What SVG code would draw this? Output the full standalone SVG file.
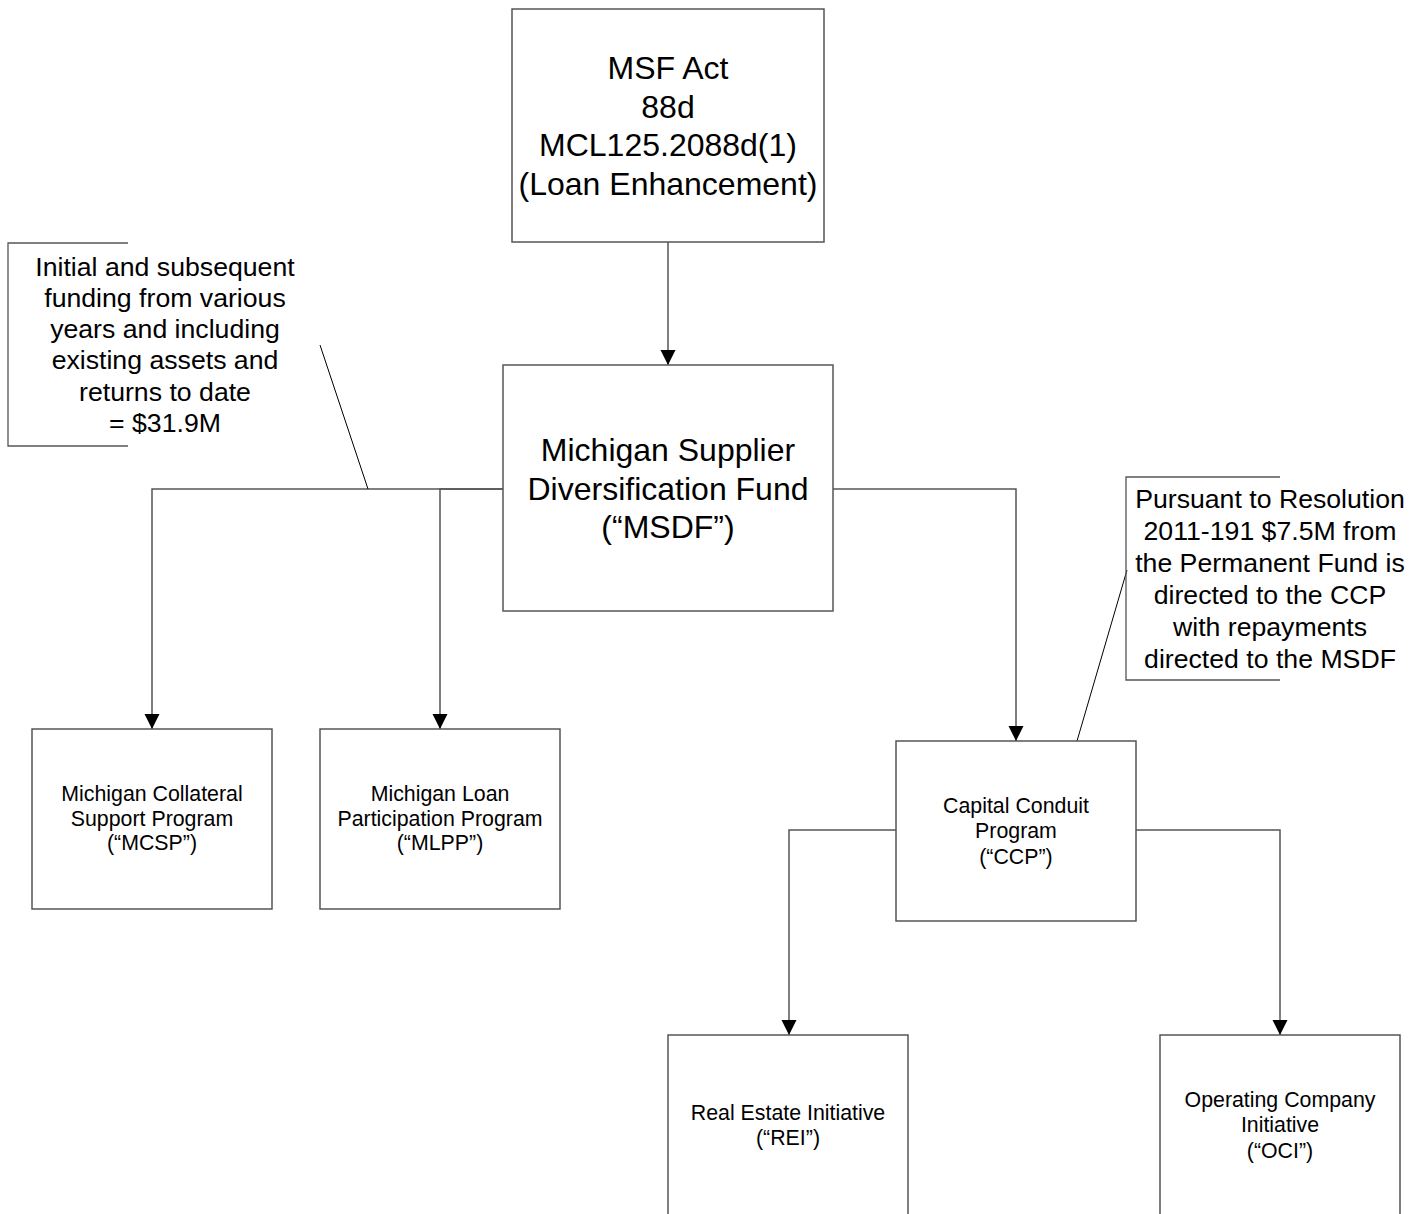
<svg xmlns="http://www.w3.org/2000/svg" width="1422" height="1214" viewBox="0 0 1422 1214">
<style>
.box{fill:#fff;stroke:#555;stroke-width:1.5}
.con{fill:none;stroke:#555;stroke-width:1.5}
.lead{fill:none;stroke:#000;stroke-width:1}
.brk{fill:none;stroke:#555;stroke-width:1.3}
text{font-family:"Liberation Sans",Arial,sans-serif;fill:#000;text-anchor:middle}
.big{font-size:32px}
.mid{font-size:26.67px}
.sm{font-size:21.33px}
</style>
<defs>
<marker id="arr" markerUnits="userSpaceOnUse" markerWidth="16" markerHeight="16" refX="15" refY="7.5" orient="auto">
<path d="M0,0 L15,7.5 L0,15 Z" fill="#000"/>
</marker>
</defs>
<g id="connectors">
<path class="con" d="M668,242 V365" marker-end="url(#arr)"/>
<path class="con" d="M503,489 H152 V729" marker-end="url(#arr)"/>
<path class="con" d="M503,489 H440 V729" marker-end="url(#arr)"/>
<path class="con" d="M833,489 H1016 V741" marker-end="url(#arr)"/>
<path class="con" d="M896,830 H789 V1035" marker-end="url(#arr)"/>
<path class="con" d="M1136,830 H1280 V1035" marker-end="url(#arr)"/>
<path class="lead" d="M320,345 L368,489"/>
<path class="lead" d="M1127,570 L1077,741"/>
</g>
<g id="msf-act">
<rect class="box" x="512" y="9" width="312" height="233"/>
<text class="big" x="668" y="79">MSF Act</text>
<text class="big" x="668" y="118">88d</text>
<text class="big" x="668" y="156">MCL125.2088d(1)</text>
<text class="big" x="668" y="195">(Loan Enhancement)</text>
</g>
<g id="msdf">
<rect class="box" x="503" y="365" width="330" height="246"/>
<text class="big" x="668" y="461">Michigan Supplier</text>
<text class="big" x="668" y="500">Diversification Fund</text>
<text class="big" x="668" y="538">(“MSDF”)</text>
</g>
<g id="note-funding">
<path class="brk" d="M128,243 H8 V446 H128"/>
<text class="mid" x="165" y="275.5">Initial and subsequent</text>
<text class="mid" x="165" y="306.5">funding from various</text>
<text class="mid" x="165" y="337.5">years and including</text>
<text class="mid" x="165" y="368.5">existing assets and</text>
<text class="mid" x="165" y="400.5">returns to date</text>
<text class="mid" x="165" y="431.5">= $31.9M</text>
</g>
<g id="note-ccp">
<path class="brk" d="M1280,477 H1126 V680 H1280"/>
<text class="mid" x="1270" y="507.5">Pursuant to Resolution</text>
<text class="mid" x="1270" y="539.5">2011-191 $7.5M from</text>
<text class="mid" x="1270" y="571.5">the Permanent Fund is</text>
<text class="mid" x="1270" y="603.5">directed to the CCP</text>
<text class="mid" x="1270" y="636">with repayments</text>
<text class="mid" x="1270" y="668">directed to the MSDF</text>
</g>
<g id="mcsp">
<rect class="box" x="32" y="729" width="240" height="180"/>
<text class="sm" x="152" y="800.5">Michigan Collateral</text>
<text class="sm" x="152" y="825.5">Support Program</text>
<text class="sm" x="152" y="849.5">(“MCSP”)</text>
</g>
<g id="mlpp">
<rect class="box" x="320" y="729" width="240" height="180"/>
<text class="sm" x="440" y="800.5">Michigan Loan</text>
<text class="sm" x="440" y="825.5">Participation Program</text>
<text class="sm" x="440" y="849.5">(“MLPP”)</text>
</g>
<g id="ccp">
<rect class="box" x="896" y="741" width="240" height="180"/>
<text class="sm" x="1016" y="812.5">Capital Conduit</text>
<text class="sm" x="1016" y="837.5">Program</text>
<text class="sm" x="1016" y="863.5">(“CCP”)</text>
</g>
<g id="rei">
<rect class="box" x="668" y="1035" width="240" height="180"/>
<text class="sm" x="788" y="1119.5">Real Estate Initiative</text>
<text class="sm" x="788" y="1144.5">(“REI”)</text>
</g>
<g id="oci">
<rect class="box" x="1160" y="1035" width="240" height="180"/>
<text class="sm" x="1280" y="1106.5">Operating Company</text>
<text class="sm" x="1280" y="1131.5">Initiative</text>
<text class="sm" x="1280" y="1157.5">(“OCI”)</text>
</g>
</svg>
